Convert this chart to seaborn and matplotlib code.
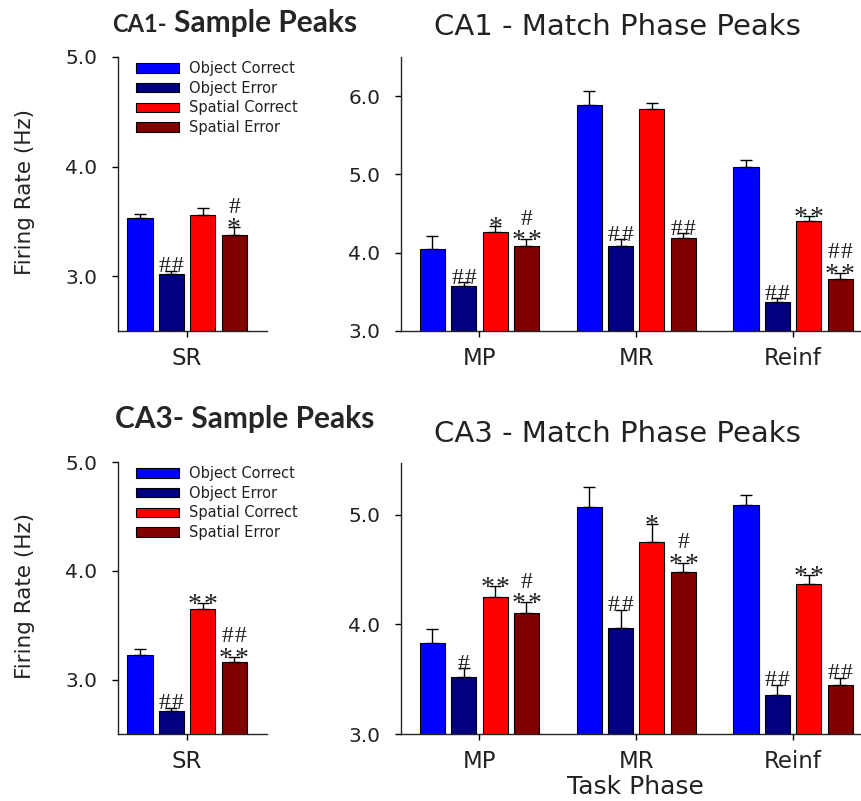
import matplotlib
matplotlib.use('Agg')
import matplotlib.pyplot as plt
from matplotlib.patches import Patch
from matplotlib.ticker import FormatStrFormatter
import seaborn as sns
import pandas as pd

# ── data (rows = conditions, cols = task phases) ──────────────────────
conditions    = ['Object Correct', 'Object Error', 'Spatial Correct', 'Spatial Error']
colores       = ['#0000ff', '#000080', '#ff0000', '#800000']
fases_sample  = ['SR']
fases_match   = ['MP', 'MR', 'Reinf']

ca1_sample_mean  = [[3.53], [3.02], [3.56], [3.38]]
ca1_sample_sem   = [[0.04], [0.03], [0.06], [0.065]]
ca1_sample_marks = [[''], ['##'], [''], ['#\n*']]

ca1_match_mean  = [[4.05, 5.89, 5.09],
                   [3.57, 4.09, 3.37],
                   [4.27, 5.84, 4.40],
                   [4.09, 4.19, 3.66]]
ca1_match_sem   = [[0.16, 0.17, 0.09],
                   [0.05, 0.08, 0.05],
                   [0.07, 0.07, 0.07],
                   [0.08, 0.06, 0.08]]
ca1_match_marks = [['', '', ''],
                   ['##', '##', '##'],
                   ['*', '', '**'],
                   ['#\n**', '##', '##\n**']]

ca3_sample_mean  = [[3.23], [2.71], [3.65], [3.165]]
ca3_sample_sem   = [[0.05], [0.03], [0.05], [0.045]]
ca3_sample_marks = [[''], ['##'], ['**'], ['##\n**']]

ca3_match_mean  = [[3.83, 5.07, 5.09],
                   [3.515, 3.97, 3.36],
                   [4.25, 4.75, 4.37],
                   [4.10, 4.48, 3.45]]
ca3_match_sem   = [[0.13, 0.18, 0.09],
                   [0.085, 0.16, 0.09],
                   [0.10, 0.16, 0.08],
                   [0.10, 0.08, 0.06]]
ca3_match_marks = [['', '', ''],
                   ['#', '##', '##'],
                   ['**', '*', '**'],
                   ['#\n**', '#\n**', '##']]

sns.set_style("ticks")
plt.rcParams['font.family'] = ['DejaVu Sans']
paleta = dict(zip(conditions, colores))
MARK_FONT = 'Liberation Serif'
STEP = {'#': 9.4, '*': 11.5}     # spacing between repeated marks, points
MSIZE = {'#': 17, '*': 20}


def draw_panel(ax, fases, means, sems, marks, ylim, yticks, xlim, legend=False):
    rows = []
    for c, cond in enumerate(conditions):
        for p, fase in enumerate(fases):
            rows.append({'fase': fase, 'cond': cond, 'rate': means[c][p]})
    df = pd.DataFrame(rows)
    sns.barplot(df, x='fase', y='rate', hue='cond', hue_order=conditions,
                palette=paleta, errorbar=None, width=0.8, gap=0.2,
                edgecolor='black', linewidth=0.8, saturation=1,
                legend=False, ax=ax)

    bar_conts = list(ax.containers)
    for c, cont in enumerate(bar_conts):
        for p, bar in enumerate(cont.patches):
            x = bar.get_x() + bar.get_width() / 2
            h = bar.get_height()
            err = sems[c][p]
            ax.errorbar([x], [h], yerr=[[0], [err]], fmt='none', ecolor='black',
                        elinewidth=1, capsize=4.3, capthick=1, zorder=5)
            txt = marks[c][p]
            if not txt:
                continue
            lineas = txt.split('\n')[::-1]   # bottom line first
            top = h + err
            for i, linea in enumerate(lineas):
                if '*' in linea:
                    dy = -6.5
                elif i == 0:
                    dy = -1
                else:
                    dy = 10.5
                n = len(linea)
                step = STEP[linea[0]]
                for k, ch in enumerate(linea):
                    dx = (k - (n - 1) / 2) * step
                    ax.annotate(ch, xy=(x, top), xytext=(dx, dy),
                                textcoords='offset points', ha='center',
                                va='baseline', fontsize=MSIZE[ch],
                                family=MARK_FONT, color='#202020', zorder=6)

    ax.set_ylim(*ylim)
    ax.set_xlim(*xlim)
    ax.set_yticks(yticks)
    ax.yaxis.set_major_formatter(FormatStrFormatter('%.1f'))
    ax.set_xlabel('')
    ax.set_ylabel('')
    ax.tick_params(axis='y', labelsize=14.5, length=4, width=1, pad=11,
                   colors='black', labelcolor='#222222')
    ax.tick_params(axis='x', labelsize=16.5, length=4.3, width=1, pad=7,
                   colors='black', labelcolor='#222222')
    for s in ['left', 'bottom']:
        ax.spines[s].set_linewidth(1.0)
    sns.despine(ax=ax)

    if legend:
        handles = [Patch(facecolor=col, edgecolor='black', linewidth=0.8)
                   for col in colores]
        ax.legend(handles, conditions, loc='upper left',
                  bbox_to_anchor=(0.12, 0.985), frameon=False, fontsize=10.5,
                  handlelength=2.95, handleheight=0.6, labelspacing=0.32,
                  handletextpad=0.7, borderaxespad=0, borderpad=0,
                  labelcolor='#222222')


W, H = 862, 801
fig = plt.figure(figsize=(W / 100, H / 100), dpi=100)


def rect(x0, y0, x1, y1):
    return [x0 / W, 1 - y1 / H, (x1 - x0) / W, (y1 - y0) / H]


ax_tl = fig.add_axes(rect(118, 57, 267, 331))
ax_tr = fig.add_axes(rect(401, 57, 862, 331))
ax_bl = fig.add_axes(rect(118, 462, 267, 734))
ax_br = fig.add_axes(rect(401, 463, 862, 734))

draw_panel(ax_tl, fases_sample, ca1_sample_mean, ca1_sample_sem, ca1_sample_marks,
           (2.5, 5.0), [3.0, 4.0, 5.0], (-0.44, 0.51), legend=True)
draw_panel(ax_tr, fases_match, ca1_match_mean, ca1_match_sem, ca1_match_marks,
           (3.0, 6.5), [3.0, 4.0, 5.0, 6.0], (-0.5, 2.44))
draw_panel(ax_bl, fases_sample, ca3_sample_mean, ca3_sample_sem, ca3_sample_marks,
           (2.5, 5.0), [3.0, 4.0, 5.0], (-0.44, 0.51), legend=True)
draw_panel(ax_br, fases_match, ca3_match_mean, ca3_match_sem, ca3_match_marks,
           (3.0, 5.47), [3.0, 4.0, 5.0], (-0.5, 2.44))

# ── titles & labels ───────────────────────────────────────────────────
fig.text(167 / W, 1 - 32 / H, 'CA1-', family='Lato', fontweight='bold',
         fontsize=17, ha='right', va='baseline')
fig.text(174 / W, 1 - 32 / H, 'Sample Peaks', family='Lato', fontweight='bold',
         fontsize=21.5, ha='left', va='baseline')
fig.text(115 / W, 1 - 428 / H, 'CA3- Sample Peaks', family='Lato',
         fontweight='bold', fontsize=21.5, ha='left', va='baseline')

fig.text(617 / W, 1 - 35 / H, 'CA1 - Match Phase Peaks', fontsize=21,
         ha='center', va='baseline', color='#222222')
fig.text(617 / W, 1 - 442 / H, 'CA3 - Match Phase Peaks', fontsize=21,
         ha='center', va='baseline', color='#222222')

fig.text(25 / W, 1 - 192 / H, 'Firing Rate (Hz)', fontsize=15.5, rotation=90,
         ha='center', va='center', color='#222222')
fig.text(25 / W, 1 - 596 / H, 'Firing Rate (Hz)', fontsize=15.5, rotation=90,
         ha='center', va='center', color='#222222')
fig.text(635 / W, 1 - 794 / H, 'Task Phase', fontsize=18, ha='center',
         va='baseline', color='#222222')

fig.savefig('out.png', dpi=100)
